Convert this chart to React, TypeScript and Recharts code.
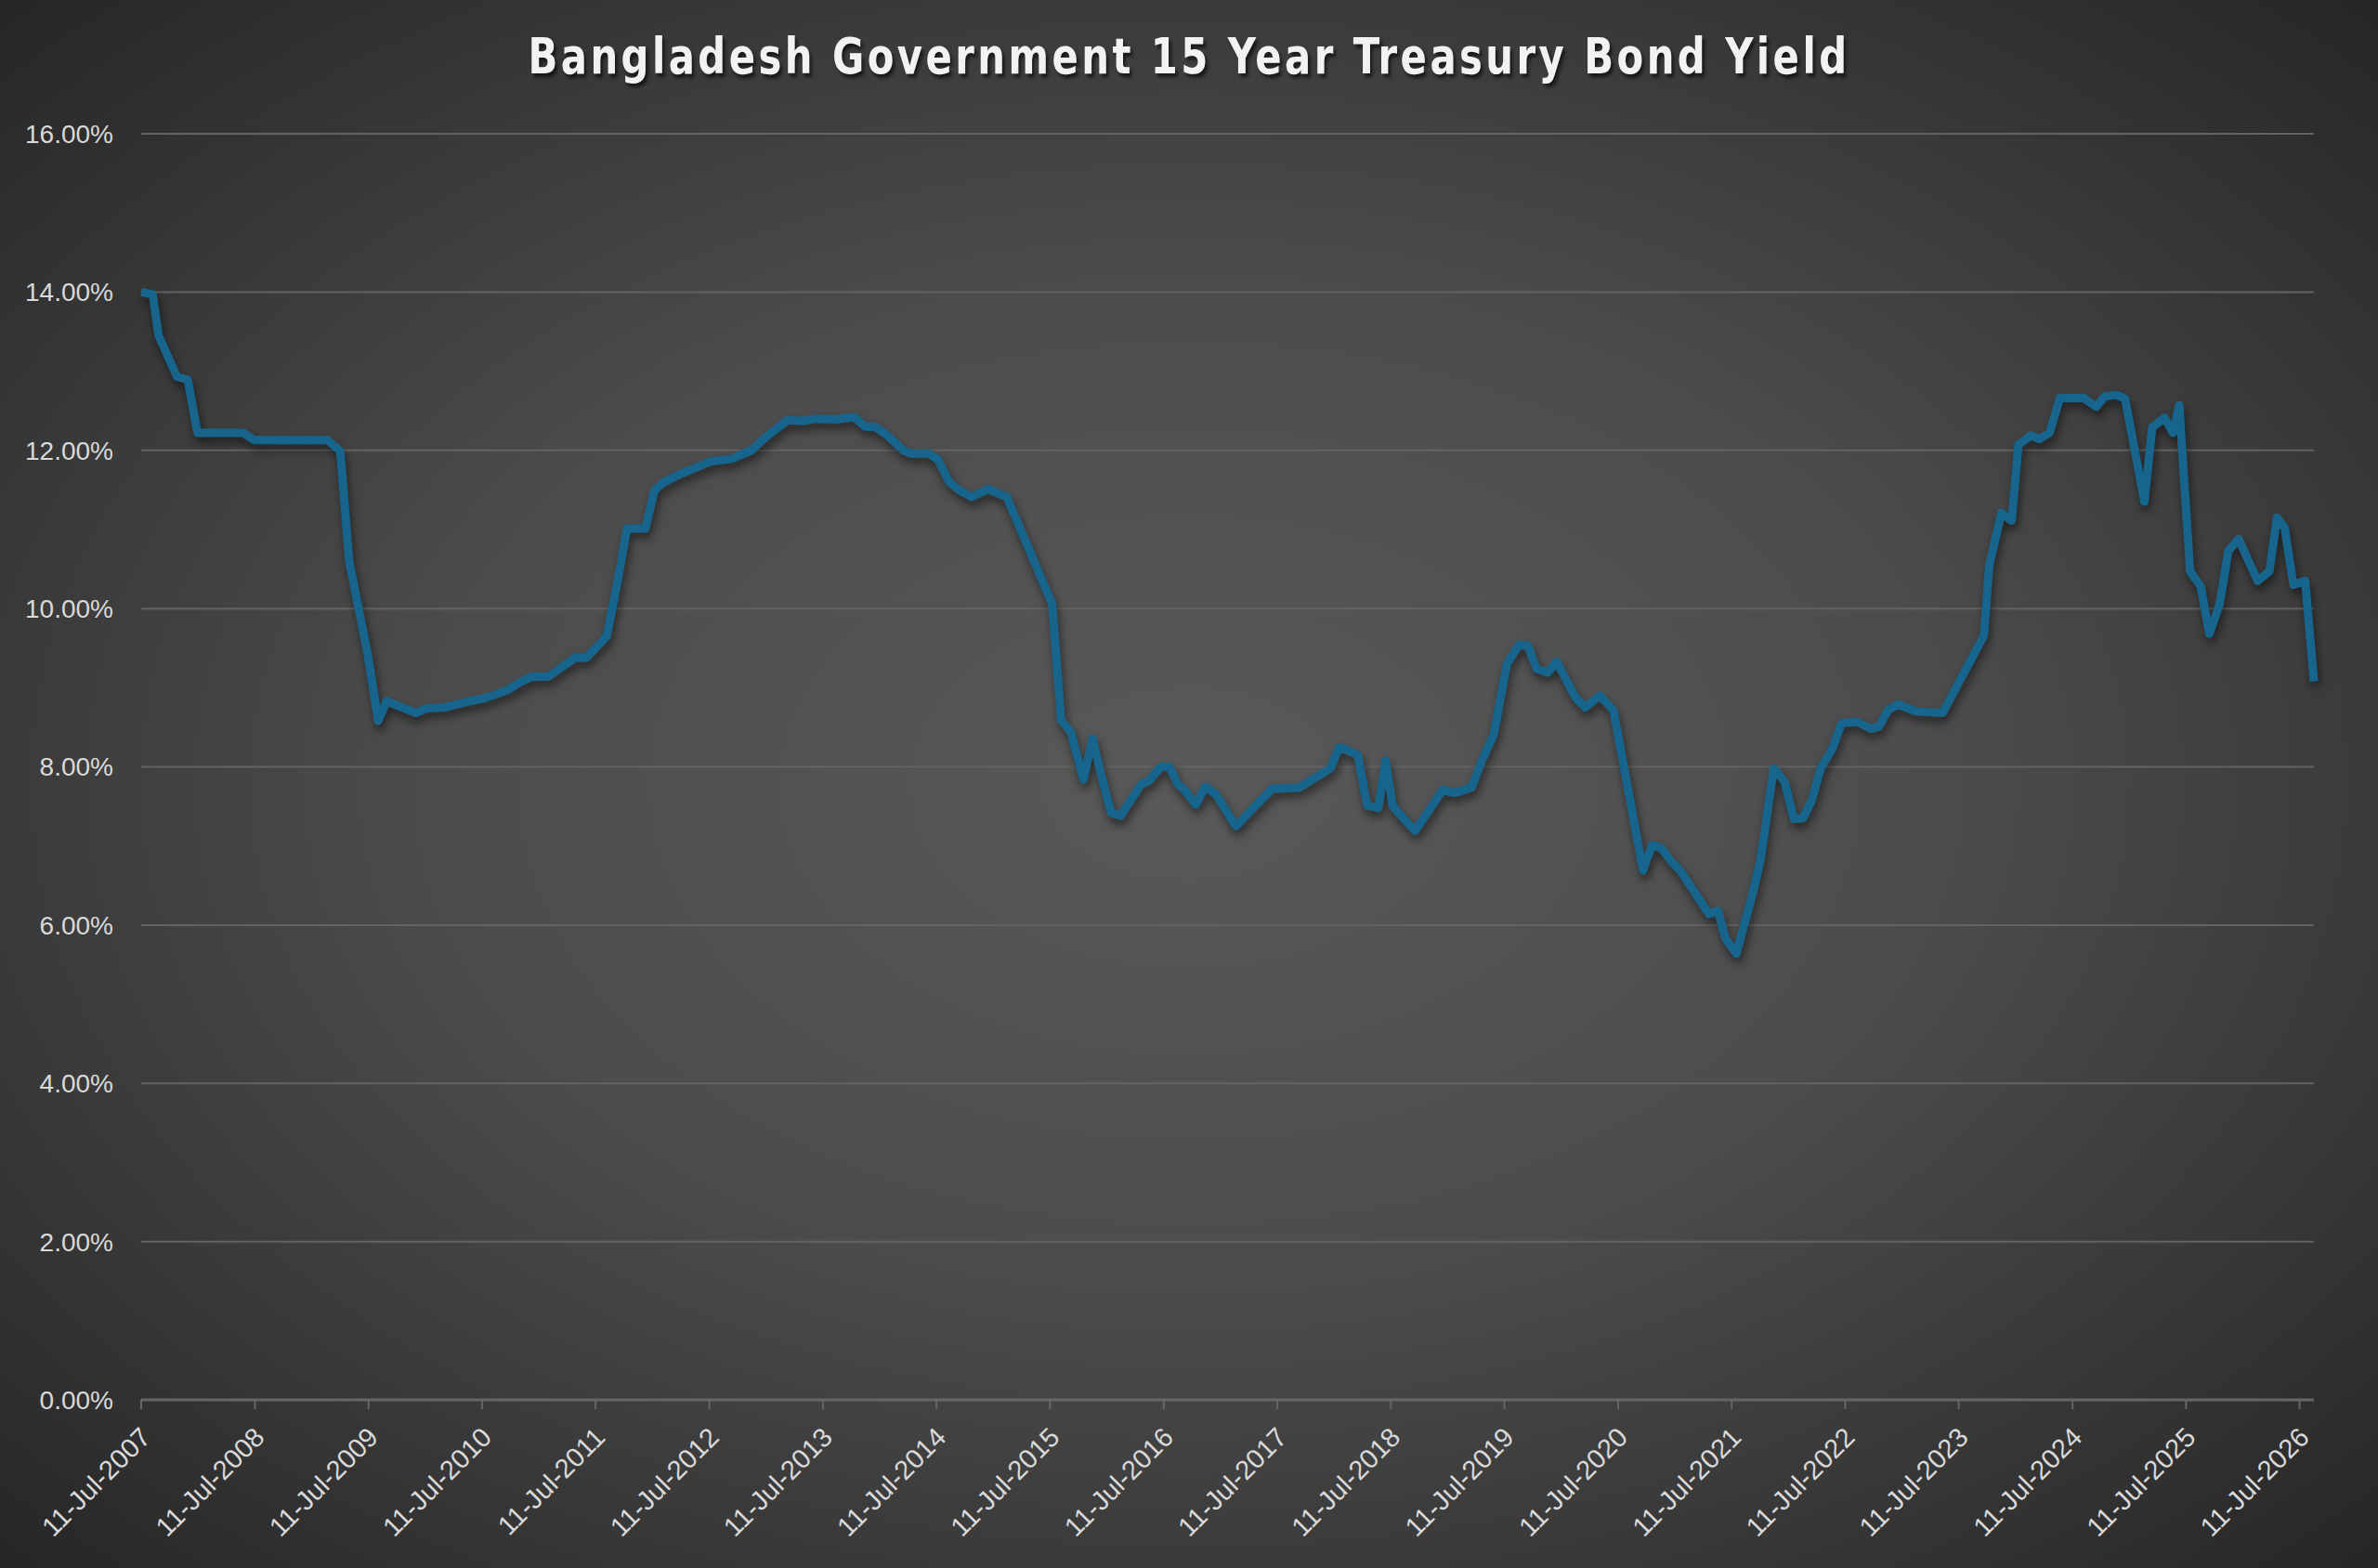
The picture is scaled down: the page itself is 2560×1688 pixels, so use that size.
import React from 'react';
import { LineChart, Line, XAxis, YAxis, CartesianGrid } from 'recharts';

const dates = [
  '2007-07-11', '2007-08-17', '2007-09-05', '2007-11-03', '2007-12-08', '2008-01-08', '2008-06-03', '2008-07-08',
  '2009-03-01', '2009-04-11', '2009-05-10', '2009-07-09', '2009-08-11', '2009-09-07', '2009-12-10', '2010-01-15',
  '2010-03-13', '2010-05-11', '2010-07-22', '2010-10-01', '2010-11-06', '2010-12-17', '2011-02-09', '2011-04-08',
  '2011-05-07', '2011-06-12', '2011-08-16', '2011-09-21', '2011-10-20', '2011-12-18', '2012-01-17', '2012-02-16',
  '2012-04-09', '2012-07-15', '2012-09-19', '2012-11-23', '2013-01-15', '2013-03-19', '2013-05-11', '2013-06-16',
  '2013-08-20', '2013-10-19', '2013-11-24', '2013-12-23', '2014-01-28', '2014-03-26', '2014-04-19', '2014-06-17',
  '2014-07-16', '2014-08-21', '2014-09-20', '2014-11-01', '2014-12-24', '2015-02-22', '2015-07-18', '2015-08-16',
  '2015-09-16', '2015-10-27', '2015-11-25', '2015-12-25', '2016-01-24', '2016-02-23', '2016-04-27', '2016-05-26',
  '2016-07-01', '2016-07-30', '2016-08-23', '2016-09-17', '2016-10-22', '2016-11-21', '2016-12-26', '2017-02-28',
  '2017-06-23', '2017-09-20', '2017-12-29', '2018-01-26', '2018-03-27', '2018-04-26', '2018-06-01', '2018-06-24',
  '2018-07-17', '2018-09-27', '2018-12-25', '2019-01-30', '2019-03-28', '2019-05-02', '2019-06-07', '2019-07-19',
  '2019-08-27', '2019-09-25', '2019-10-22', '2019-11-27', '2019-12-26', '2020-02-24', '2020-03-27', '2020-05-13',
  '2020-06-26', '2020-09-29', '2020-10-28', '2020-11-28', '2020-12-27', '2021-01-26', '2021-04-29', '2021-05-28',
  '2021-06-21', '2021-07-26', '2021-09-18', '2021-10-12', '2021-11-23', '2021-12-28', '2022-01-27', '2022-02-25',
  '2022-03-25', '2022-04-23', '2022-06-01', '2022-06-29', '2022-08-17', '2022-10-01', '2022-10-28', '2022-11-26',
  '2022-12-28', '2023-02-23', '2023-05-20', '2023-09-30', '2023-10-17', '2023-11-25', '2023-12-28', '2024-01-19',
  '2024-02-28', '2024-03-25', '2024-04-28', '2024-05-31', '2024-08-16', '2024-09-25', '2024-10-22', '2024-11-30',
  '2024-12-27', '2025-02-27', '2025-03-24', '2025-05-03', '2025-05-30', '2025-06-19', '2025-07-24', '2025-08-27',
  '2025-09-24', '2025-10-27', '2025-11-24', '2025-12-27', '2026-02-26', '2026-04-05', '2026-04-29', '2026-05-24',
  '2026-06-21', '2026-07-29', '2026-08-26',
];

// yield in percent
const yields = [
  14.0, 13.97, 13.45, 12.93, 12.89, 12.22, 12.22, 12.13,
  12.13, 11.99, 10.59, 9.41, 8.58, 8.83, 8.68, 8.74,
  8.75, 8.81, 8.87, 8.97, 9.06, 9.14, 9.14, 9.3,
  9.38, 9.38, 9.65, 10.37, 11.01, 11.01, 11.5, 11.6,
  11.7, 11.86, 11.89, 12.0, 12.19, 12.38, 12.37, 12.4,
  12.39, 12.42, 12.3, 12.3, 12.21, 12.0, 11.96, 11.96,
  11.88, 11.6, 11.5, 11.41, 11.51, 11.41, 10.06, 8.59,
  8.44, 7.84, 8.36, 7.86, 7.42, 7.38, 7.77, 7.83,
  8.0, 8.0, 7.79, 7.7, 7.52, 7.75, 7.65, 7.25,
  7.72, 7.74, 7.98, 8.25, 8.15, 7.51, 7.48, 8.08,
  7.5, 7.19, 7.71, 7.67, 7.74, 8.1, 8.41, 9.3,
  9.54, 9.53, 9.24, 9.19, 9.33, 8.88, 8.75, 8.9,
  8.71, 6.69, 7.01, 6.97, 6.81, 6.69, 6.14, 6.18,
  5.83, 5.64, 6.42, 6.83, 7.98, 7.81, 7.34, 7.35,
  7.57, 7.98, 8.24, 8.55, 8.57, 8.48, 8.51, 8.72,
  8.79, 8.7, 8.68, 9.66, 10.54, 11.21, 11.11, 12.07,
  12.19, 12.14, 12.22, 12.66, 12.66, 12.55, 12.68, 12.7,
  12.65, 11.35, 12.29, 12.41, 12.22, 12.57, 10.47, 10.28,
  9.68, 10.06, 10.73, 10.88, 10.35, 10.47, 11.15, 11.02,
  10.3, 10.35, 9.08,
];

const tickYears = [
  2007, 2008, 2009, 2010, 2011, 2012, 2013, 2014, 2015, 2016,
  2017, 2018, 2019, 2020, 2021, 2022, 2023, 2024, 2025, 2026,
];

const yTicks = [0, 2, 4, 6, 8, 10, 12, 14, 16];

const MONTHS = ['Jan', 'Feb', 'Mar', 'Apr', 'May', 'Jun', 'Jul', 'Aug', 'Sep', 'Oct', 'Nov', 'Dec'];
const FONT = "'Liberation Sans', Arial, sans-serif";
const TITLE_FONT = "'DejaVu Sans Condensed', 'DejaVu Sans', sans-serif";

const data = dates.map((d, i) => ({ t: Date.parse(d), y: yields[i] }));
const xTicks = tickYears.map((yr) => Date.UTC(yr, 6, 11));

const fmtDate = (t: number) => {
  const d = new Date(t);
  return `${d.getUTCDate()}-${MONTHS[d.getUTCMonth()]}-${d.getUTCFullYear()}`;
};

const DateTick = (props: any) => {
  const { x, y, payload } = props;
  const ax = x + 12;
  const ay = y + 30;
  return (
    <text
      x={ax}
      y={ay}
      textAnchor="end"
      transform={`rotate(-45, ${ax}, ${ay})`}
      fill="#d9d9d9"
      fontSize={29}
      fontFamily={FONT}
    >
      {fmtDate(payload.value)}
    </text>
  );
};

const App: React.FC = () => {
  return (
    <div
      style={{
        position: 'absolute',
        left: 0,
        top: 0,
        width: 2560,
        height: 1688,
        background:
          'radial-gradient(ellipse farthest-corner at 50% 50%, #595959 0%, #4c4c4c 45%, #262626 100%)',
      }}
    >
      <style>{`.recharts-line-curve{filter:drop-shadow(2px 6px 5px rgba(0,0,0,0.5));}`}</style>
      <div
        style={{
          position: 'absolute',
          left: 0,
          top: 34,
          width: 2560,
          textAlign: 'center',
          fontFamily: TITLE_FONT,
          fontWeight: 700,
          fontSize: 54,
          lineHeight: '54px',
          letterSpacing: 4,
          color: '#f2f2f2',
          textShadow: '3px 4px 4px rgba(0,0,0,0.6)',
          transform: 'scaleX(0.86)',
          transformOrigin: '1280px 0',
        }}
      >
        Bangladesh Government 15 Year Treasury Bond Yield
      </div>
      <LineChart
        width={2560}
        height={1688}
        data={data}
        margin={{ top: 144, right: 69, bottom: 0, left: 0 }}
        style={{ position: 'absolute', left: 0, top: 0 }}
      >
        <CartesianGrid vertical={false} stroke="#636363" strokeWidth={2} />
        <XAxis
          dataKey="t"
          type="number"
          scale="time"
          domain={[data[0].t, data[data.length - 1].t]}
          ticks={xTicks}
          interval={0}
          height={181}
          tickSize={10}
          tickMargin={2}
          axisLine={{ stroke: '#666666', strokeWidth: 3 }}
          tickLine={{ stroke: '#666666', strokeWidth: 2 }}
          tick={<DateTick />}
        />
        <YAxis
          type="number"
          domain={[0, 16]}
          ticks={yTicks}
          interval={0}
          width={152}
          axisLine={false}
          tickLine={false}
          tickMargin={24}
          tickFormatter={(v: number) => `${v.toFixed(2)}%`}
          tick={{ fill: '#d9d9d9', fontSize: 28, fontFamily: FONT }}
        />
        <Line
          type="linear"
          dataKey="y"
          stroke="#17648c"
          strokeWidth={9}
          strokeLinejoin="round"
          dot={false}
          activeDot={false}
          isAnimationActive={false}
        />
      </LineChart>
    </div>
  );
};

export default App;
